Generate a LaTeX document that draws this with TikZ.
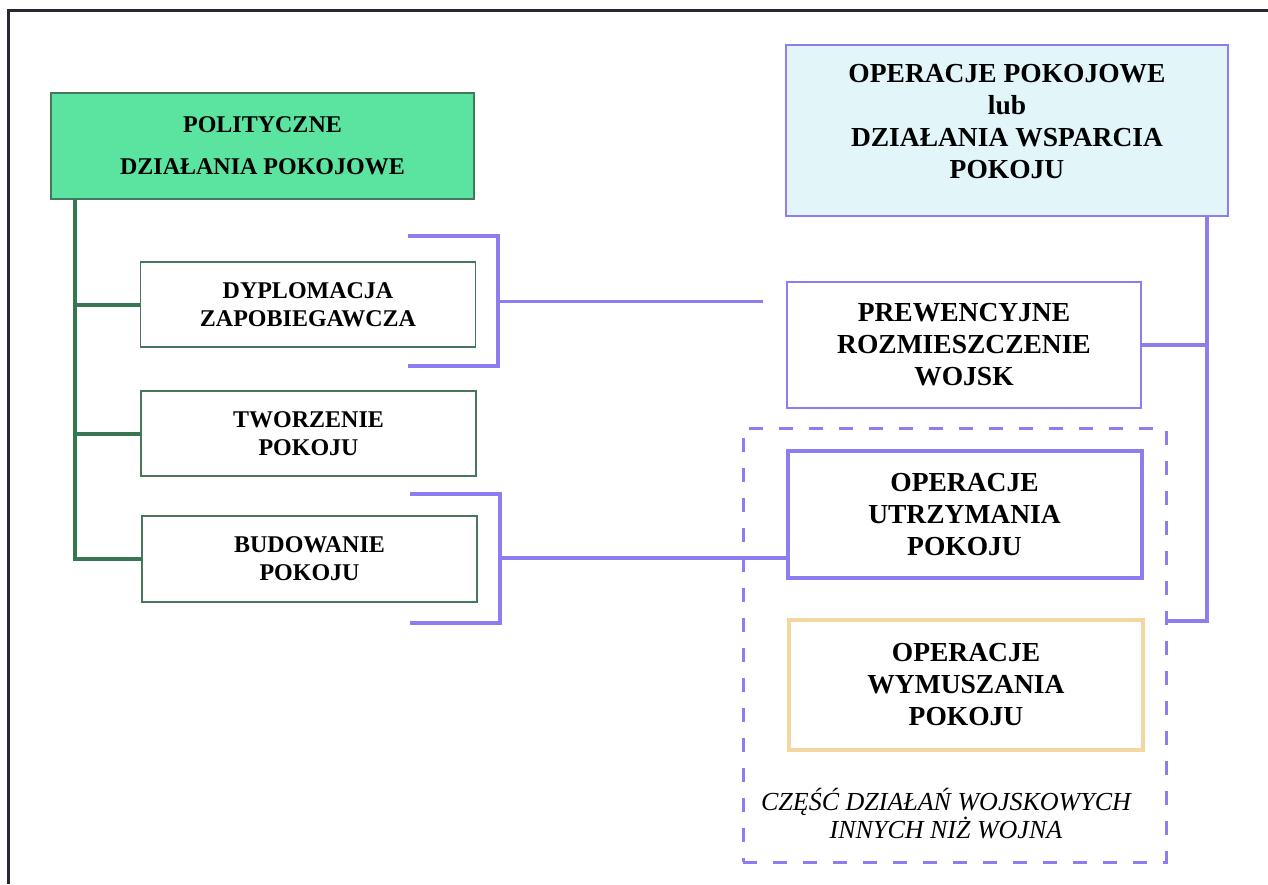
\documentclass[tikz,border=0pt]{standalone}
\usepackage{fontspec}
\setmainfont{Liberation Serif}
\definecolor{greenfill}{RGB}{90,228,160}
\definecolor{greenline}{RGB}{55,118,82}
\definecolor{greenborder}{RGB}{70,118,92}
\definecolor{bluel}{RGB}{140,125,240}
\definecolor{cyanfill}{RGB}{226,246,250}
\definecolor{orangel}{RGB}{244,214,160}
\definecolor{framec}{RGB}{40,40,50}
\tikzset{
  leftbox/.style={draw=greenborder, line width=0.8pt, fill=white, inner sep=0pt,
    minimum width=167.5pt, minimum height=42.5pt, align=center,
    font=\fontsize{12}{14}\selectfont\bfseries},
  rightbox/.style={draw=bluel, line width=0.8pt, inner sep=0pt,
    minimum width=177pt, minimum height=63pt, align=center,
    font=\fontsize{13.75}{16}\selectfont\bfseries},
  gline/.style={draw=greenline, line width=2pt},
  bthick/.style={draw=bluel, line width=2.2pt},
  bthin/.style={draw=bluel, line width=1.5pt},
}
\begin{document}
\begin{tikzpicture}[x=0.5pt,y=-0.5pt]
\useasboundingbox[fill=white] (0,0) rectangle (1268,884);
% frame
\draw[framec, line width=1.5pt] (8,884) -- (8,10) -- (1268,10);

% left side
\node[draw=greenborder, line width=0.8pt, fill=greenfill, inner sep=0pt,
  minimum width=211.5pt, minimum height=53pt, align=center,
  font=\fontsize{12}{21}\selectfont\bfseries] (pol) at (262.5,146) {POLITYCZNE\\DZIAŁANIA POKOJOWE};
\node[leftbox] (dyp) at (308,304.5) {DYPLOMACJA\\ZAPOBIEGAWCZA};
\node[leftbox] (tw) at (308.5,433.5) {TWORZENIE\\POKOJU};
\node[leftbox, minimum height=43pt] (bud) at (309.5,559) {BUDOWANIE\\POKOJU};

\coordinate (trunk) at (75,199);
\draw[gline] (trunk) |- (bud.west);
\draw[gline] (trunk |- dyp.west) -- (dyp.west);
\draw[gline] (trunk |- tw.west) -- (tw.west);

% right side
\node[draw=bluel, line width=0.8pt, fill=cyanfill, inner sep=0pt,
  minimum width=221pt, minimum height=85.5pt] (opp) at (1007,130.5) {};
\node[align=center, font=\fontsize{13.75}{16}\selectfont\bfseries] (opptxt) at (1007,121.5)
  {OPERACJE POKOJOWE\\lub\\DZIAŁANIA WSPARCIA\\POKOJU};
\node[rightbox, fill=white] (prew) at (964,345) {PREWENCYJNE\\ROZMIESZCZENIE\\WOJSK};
\node[rightbox, draw=bluel, line width=2pt, fill=white, minimum height=63.5pt] (utrz) at (964.5,514.5)
  {OPERACJE\\UTRZYMANIA\\POKOJU};
\node[rightbox, draw=orangel, line width=1.6pt, fill=white, minimum height=65pt] (wym) at (966,685)
  {OPERACJE\\WYMUSZANIA\\POKOJU};

% dashed group
\node[draw=bluel, line width=1.5pt, dash pattern=on 7pt off 8pt, inner sep=0pt,
  minimum width=211.5pt, minimum height=217pt] (grp) at (954.5,645) {};
\node[align=center, font=\fontsize{13}{14}\selectfont\itshape] (grptxt) at (946,814)
  {CZĘŚĆ DZIAŁAŃ WOJSKOWYCH\\INNYCH NIŻ WOJNA};

% bracket 1
\coordinate (b1a) at (408,236);
\coordinate (b1b) at (498,236);
\coordinate (b1c) at (498,366);
\coordinate (b1d) at (408,366);
\coordinate (b1m) at (498,301);
\coordinate (b1e) at (763,301);
\draw[bthick] (b1a) -- (b1b) -- (b1c) -- (b1d);
\draw[bthin] (b1m) -- (b1e);

% bracket 2
\coordinate (b2a) at (410,494);
\coordinate (b2b) at (500,494);
\coordinate (b2c) at (500,623);
\coordinate (b2d) at (410,623);
\coordinate (b2m) at (500,558);
\draw[bthick] (b2a) -- (b2b) -- (b2c) -- (b2d);
\draw[bthick] (b2m) -- (b2m -| utrz.west);

% right connector
\coordinate (rtop) at (1207,216);
\coordinate (rbot) at (1207,621);
\draw[bthick] (rtop) -- (rbot) -- (rbot -| grp.east);
\draw[bthick] (prew.east) -- (prew.east -| rtop);
\end{tikzpicture}
\end{document}
